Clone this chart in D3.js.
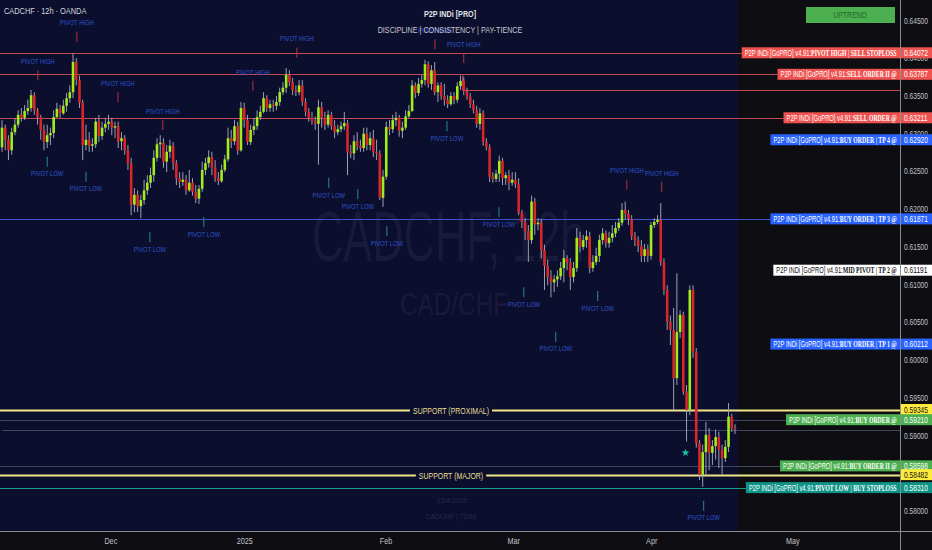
<!DOCTYPE html>
<html><head><meta charset="utf-8">
<script src="https://cdn.jsdelivr.net/npm/d3@7"></script>
<style>html,body{margin:0;padding:0;background:#0e0e12;overflow:hidden}</style>
</head><body><svg id="c" width="932" height="550"></svg>
<script>
// ---------- DATA ----------
// 12h candles, [open, high, low, close]
const candles = [
[0.6282,0.6318,0.6276,0.6308],[0.6308,0.6312,0.6278,0.6292],[0.6292,0.6298,0.6265,0.6278],[0.6278,0.6308,0.6272,0.6302],
[0.6302,0.6321,0.6298,0.6312],[0.6312,0.6331,0.6308,0.6325],[0.6325,0.6334,0.6316,0.6321],[0.6321,0.6338,0.6318,0.6330],
[0.6330,0.6345,0.6325,0.6334],[0.6334,0.6358,0.6329,0.6351],[0.6351,0.6355,0.6325,0.6331],[0.6331,0.6334,0.6312,0.6322],
[0.6322,0.6325,0.6292,0.6305],[0.6305,0.6312,0.6278,0.6289],[0.6289,0.6312,0.6281,0.6298],[0.6298,0.6308,0.6285,0.6301],
[0.6301,0.6331,0.6294,0.6322],[0.6322,0.6341,0.6321,0.6333],[0.6333,0.6338,0.6321,0.6327],[0.6327,0.6345,0.6325,0.6337],
[0.6337,0.6354,0.6329,0.6347],[0.6347,0.6364,0.6341,0.6355],[0.6355,0.6407,0.6347,0.6395],[0.6395,0.6400,0.6364,0.6371],
[0.6371,0.6377,0.6334,0.6341],[0.6341,0.6345,0.6265,0.6285],[0.6285,0.6312,0.6278,0.6292],[0.6292,0.6302,0.6276,0.6284],
[0.6284,0.6294,0.6276,0.6286],[0.6286,0.6321,0.6281,0.6316],[0.6316,0.6325,0.6289,0.6297],[0.6297,0.6316,0.6292,0.6308],
[0.6308,0.6321,0.6302,0.6313],[0.6313,0.6325,0.6305,0.6316],[0.6316,0.6321,0.6298,0.6308],[0.6308,0.6316,0.6294,0.6310],
[0.6310,0.6316,0.6281,0.6290],[0.6290,0.6302,0.6278,0.6294],[0.6294,0.6298,0.6272,0.6278],[0.6278,0.6285,0.6252,0.6261],
[0.6261,0.6268,0.6192,0.6206],[0.6206,0.6228,0.6196,0.6219],[0.6219,0.6225,0.6196,0.6204],[0.6204,0.6219,0.6188,0.6212],
[0.6212,0.6239,0.6206,0.6225],[0.6225,0.6245,0.6219,0.6235],[0.6235,0.6255,0.6228,0.6245],[0.6245,0.6278,0.6236,0.6268],
[0.6268,0.6294,0.6263,0.6286],[0.6286,0.6298,0.6268,0.6288],[0.6288,0.6294,0.6255,0.6263],[0.6263,0.6285,0.6249,0.6276],
[0.6276,0.6292,0.6268,0.6284],[0.6284,0.6289,0.6252,0.6261],[0.6261,0.6265,0.6232,0.6241],[0.6241,0.6249,0.6228,0.6236],
[0.6236,0.6249,0.6231,0.6239],[0.6239,0.6245,0.6219,0.6225],[0.6225,0.6252,0.6223,0.6235],[0.6235,0.6241,0.6218,0.6223],
[0.6223,0.6232,0.6208,0.6214],[0.6214,0.6232,0.6207,0.6227],[0.6227,0.6263,0.6223,0.6252],[0.6252,0.6268,0.6245,0.6261],
[0.6261,0.6278,0.6255,0.6269],[0.6269,0.6276,0.6245,0.6255],[0.6255,0.6265,0.6236,0.6241],[0.6241,0.6249,0.6232,0.6237],
[0.6237,0.6259,0.6235,0.6252],[0.6252,0.6272,0.6249,0.6266],[0.6266,0.6308,0.6263,0.6294],[0.6294,0.6305,0.6281,0.6290],
[0.6290,0.6318,0.6285,0.6310],[0.6310,0.6316,0.6272,0.6278],[0.6278,0.6342,0.6276,0.6334],[0.6334,0.6341,0.6308,0.6318],
[0.6318,0.6325,0.6285,0.6289],[0.6289,0.6312,0.6285,0.6305],[0.6305,0.6321,0.6298,0.6310],[0.6310,0.6331,0.6305,0.6322],
[0.6322,0.6337,0.6318,0.6329],[0.6329,0.6355,0.6327,0.6347],[0.6347,0.6351,0.6329,0.6334],[0.6334,0.6345,0.6329,0.6339],
[0.6339,0.6345,0.6329,0.6337],[0.6337,0.6350,0.6331,0.6342],[0.6342,0.6361,0.6337,0.6355],[0.6355,0.6368,0.6351,0.6361],
[0.6361,0.6387,0.6354,0.6378],[0.6378,0.6384,0.6363,0.6368],[0.6368,0.6374,0.6351,0.6358],[0.6358,0.6364,0.6350,0.6355],
[0.6355,0.6371,0.6351,0.6364],[0.6364,0.6371,0.6337,0.6342],[0.6342,0.6347,0.6323,0.6329],[0.6329,0.6334,0.6316,0.6321],
[0.6321,0.6329,0.6312,0.6317],[0.6317,0.6323,0.6305,0.6313],[0.6313,0.6345,0.6259,0.6335],[0.6335,0.6342,0.6308,0.6321],
[0.6321,0.6329,0.6305,0.6312],[0.6312,0.6331,0.6308,0.6325],[0.6325,0.6329,0.6305,0.6310],[0.6310,0.6318,0.6294,0.6302],
[0.6302,0.6312,0.6298,0.6306],[0.6306,0.6316,0.6302,0.6310],[0.6310,0.6329,0.6305,0.6314],[0.6314,0.6318,0.6245,0.6276],
[0.6276,0.6285,0.6268,0.6274],[0.6274,0.6298,0.6265,0.6290],[0.6290,0.6302,0.6278,0.6284],[0.6284,0.6292,0.6276,0.6281],
[0.6281,0.6308,0.6276,0.6300],[0.6300,0.6308,0.6278,0.6285],[0.6285,0.6302,0.6278,0.6294],[0.6294,0.6305,0.6269,0.6276],
[0.6276,0.6292,0.6265,0.6274],[0.6274,0.6278,0.6212,0.6215],[0.6215,0.6252,0.6203,0.6243],[0.6243,0.6316,0.6239,0.6309],
[0.6309,0.6318,0.6298,0.6306],[0.6306,0.6325,0.6301,0.6318],[0.6318,0.6329,0.6310,0.6321],[0.6321,0.6325,0.6296,0.6304],
[0.6304,0.6316,0.6294,0.6308],[0.6308,0.6331,0.6305,0.6323],[0.6323,0.6338,0.6321,0.6330],[0.6330,0.6371,0.6329,0.6364],
[0.6364,0.6368,0.6347,0.6354],[0.6354,0.6374,0.6350,0.6366],[0.6366,0.6378,0.6361,0.6371],[0.6371,0.6398,0.6364,0.6392],
[0.6392,0.6396,0.6361,0.6366],[0.6366,0.6391,0.6358,0.6384],[0.6384,0.6395,0.6351,0.6355],[0.6355,0.6368,0.6342,0.6364],
[0.6364,0.6368,0.6345,0.6350],[0.6350,0.6366,0.6337,0.6345],[0.6345,0.6351,0.6334,0.6339],[0.6339,0.6355,0.6337,0.6350],
[0.6350,0.6355,0.6339,0.6345],[0.6345,0.6368,0.6341,0.6363],[0.6363,0.6377,0.6358,0.6370],[0.6370,0.6375,0.6351,0.6357],
[0.6357,0.6361,0.6345,0.6349],[0.6349,0.6354,0.6334,0.6339],[0.6339,0.6345,0.6327,0.6331],[0.6331,0.6337,0.6308,0.6313],
[0.6313,0.6334,0.6305,0.6327],[0.6327,0.6331,0.6284,0.6289],[0.6289,0.6294,0.6278,0.6282],[0.6282,0.6286,0.6236,0.6243],
[0.6243,0.6249,0.6235,0.6240],[0.6240,0.6252,0.6236,0.6247],[0.6247,0.6271,0.6236,0.6264],[0.6264,0.6268,0.6232,0.6241],
[0.6241,0.6249,0.6232,0.6245],[0.6245,0.6252,0.6225,0.6235],[0.6235,0.6249,0.6231,0.6239],[0.6239,0.6249,0.6228,0.6233],
[0.6233,0.6241,0.6192,0.6195],[0.6195,0.6199,0.6175,0.6183],[0.6183,0.6188,0.6159,0.6171],[0.6171,0.6179,0.6130,0.6159],
[0.6159,0.6218,0.6154,0.6210],[0.6210,0.6215,0.6166,0.6180],[0.6180,0.6188,0.6172,0.6182],[0.6182,0.6187,0.6135,0.6146],
[0.6146,0.6153,0.6093,0.6125],[0.6125,0.6133,0.6099,0.6110],[0.6110,0.6119,0.6083,0.6103],[0.6103,0.6113,0.6090,0.6107],
[0.6107,0.6119,0.6097,0.6111],[0.6111,0.6130,0.6106,0.6122],[0.6122,0.6146,0.6103,0.6135],[0.6135,0.6139,0.6119,0.6129],
[0.6129,0.6135,0.6093,0.6110],[0.6110,0.6130,0.6103,0.6122],[0.6122,0.6175,0.6117,0.6162],[0.6162,0.6170,0.6143,0.6150],
[0.6150,0.6166,0.6146,0.6159],[0.6159,0.6172,0.6149,0.6164],[0.6164,0.6170,0.6115,0.6122],[0.6122,0.6139,0.6117,0.6130],
[0.6130,0.6149,0.6126,0.6138],[0.6138,0.6166,0.6130,0.6159],[0.6159,0.6175,0.6153,0.6168],[0.6168,0.6172,0.6149,0.6155],
[0.6155,0.6170,0.6149,0.6162],[0.6162,0.6179,0.6156,0.6168],[0.6168,0.6183,0.6163,0.6175],[0.6175,0.6188,0.6171,0.6182],
[0.6182,0.6208,0.6178,0.6199],[0.6199,0.6210,0.6186,0.6194],[0.6194,0.6199,0.6179,0.6187],[0.6187,0.6192,0.6159,0.6164],
[0.6164,0.6170,0.6151,0.6159],[0.6159,0.6164,0.6143,0.6151],[0.6151,0.6159,0.6130,0.6138],[0.6138,0.6154,0.6130,0.6147],
[0.6147,0.6153,0.6130,0.6138],[0.6138,0.6183,0.6133,0.6179],[0.6179,0.6188,0.6175,0.6183],[0.6183,0.6192,0.6180,0.6186],
[0.6186,0.6208,0.6125,0.6130],[0.6130,0.6135,0.6086,0.6093],[0.6093,0.6099,0.6040,0.6051],[0.6051,0.6059,0.6020,0.6040],
[0.6040,0.6069,0.5934,0.5976],[0.5976,0.6115,0.5967,0.6037],[0.6037,0.6066,0.6029,0.6060],[0.6060,0.6064,0.5954,0.5958],
[0.5958,0.5967,0.5892,0.5934],[0.5934,0.6099,0.5927,0.6093],[0.6093,0.6099,0.6003,0.6011],[0.6011,0.6016,0.5884,0.5890],
[0.5890,0.5894,0.5841,0.5848],[0.5848,0.5888,0.5832,0.5878],[0.5878,0.5918,0.5847,0.5901],[0.5901,0.5910,0.5854,0.5877],
[0.5877,0.5894,0.5861,0.5886],[0.5886,0.5908,0.5868,0.5898],[0.5898,0.5905,0.5857,0.5881],[0.5881,0.5888,0.5848,0.5870],
[0.5870,0.5894,0.5865,0.5885],[0.5885,0.5943,0.5878,0.5925],[0.5925,0.5929,0.5905,0.5910],[0.5910,0.5915,0.5902,0.5908]
];

const monthLabels = ["Dec", "2025", "Feb", "Mar", "Apr", "May"];
const monthBars   = [33.7, 75.2, 118.9, 158.5, 201.2, 244.9];

const priceTicks = [0.580,0.585,0.590,0.595,0.600,0.605,0.610,0.615,0.620,0.625,0.630,0.635,0.640,0.645];

// indicator levels (right-hand labels)
const levelPrices = [0.64072, 0.63787, 0.63211, 0.62920, 0.61871, 0.61191, 0.60212, 0.59345, 0.59210, 0.58598, 0.58482, 0.58310];
const levelNames  = ["PIVOT HIGH | SELL STOPLOSS", "SELL ORDER II @", "SELL ORDER @", "BUY ORDER | TP 4 @",
                     "BUY ORDER | TP 3 @", "MID PIVOT | TP 2 @", "BUY ORDER | TP 1 @", "",
                     "BUY ORDER @", "BUY ORDER II @", "", "PIVOT LOW | BUY STOPLOSS"];
const levelKinds  = ["red","red","red","blue","blue","white","blue","yellow","green","green","yellow","teal"];
const levelLine   = ["red","red","red",null,"blue",null,null,"yellow","gray","gray","yellow","teal"];
const supportTexts = {"0.59345": "SUPPORT (PROXIMAL)", "0.58482": "SUPPORT (MAJOR)"};
const labelPrefix = "P2P INDi [GoPRO] v4.91:";

// extra unlabeled lines: [price, fromBar, kind]
const extraLines = [[0.6358, 142.7, "red"], [0.5908, 0, "gray"]];

// pivot annotations
const pivotHighBars   = [11.1, 23.2, 35.9, 49.8, 77.7, 91.3, 134.1, 143.0, 193.5, 204.3];
const pivotHighPrices = [0.6396, 0.6447, 0.6367, 0.6330, 0.6382, 0.6426, 0.6437, 0.6419, 0.6251, 0.6248];
const pivotLowBars    = [14.0, 26.0, 45.8, 62.5, 101.2, 110.2, 119.2, 137.8, 153.9, 161.6, 171.5, 184.5, 217.3];
const pivotLowPrices  = [0.6247, 0.6227, 0.6147, 0.6167, 0.6219, 0.6204, 0.6155, 0.6294, 0.6180, 0.6074, 0.6015, 0.6069, 0.5791];

const starBar = 211.8, starPrice = 0.5878;

// ---------- CHART ----------
const W = 932, H = 550, plotRight = 738, axisX = 900, axisY = 531;
const FONT = "Liberation Sans, Arial, sans-serif";
const svg = d3.select("#c");
const x = d3.scaleLinear().domain([0, candles.length - 1]).range([2, 735]);
const y = d3.scaleLinear().domain([0.580, 0.645]).range([511, 20.5]);

// horizontally condensed text (transform keeps the real box right)
function ctext(parent, tx, ty, f, str, size, fill, anchor) {
  return parent.append("text").attr("x", 0).attr("y", 0)
    .attr("transform", `translate(${tx},${ty}) scale(${f},1)`)
    .attr("font-size", size).attr("fill", fill).attr("font-family", FONT)
    .attr("text-anchor", anchor || "start").text(str);
}

svg.append("rect").attr("width", W).attr("height", H).attr("fill", "#0e0e12");
svg.append("rect").attr("width", plotRight).attr("height", axisY).attr("fill", "#0b0e2c");

// watermark
ctext(svg, 312, 261, 0.62, "CADCHF, 12h", 70, "#171a3a");
ctext(svg, 400, 315, 0.76, "CAD/CHF", 32, "#171a3a");
ctext(svg, 452, 503, 0.85, "15/4/2025", 8, "#262a4c", "middle");
ctext(svg, 451, 519, 0.85, "CADCHF | 720M", 8, "#262a4c", "middle");

const lineColors = {red: "#c24a52", blue: "#3a55c8", teal: "#1c9c8c", gray: "#41465f", yellow: "#efe38c"};
const LF = 0.685;

// measure label widths
const labelW = [];
const tmp = svg.append("g");
levelPrices.forEach((p, i) => {
  if (!levelNames[i]) { labelW.push(0); return; }
  const t = tmp.append("text").attr("font-size", 8.5).attr("font-family", FONT);
  t.append("tspan").text(labelPrefix);
  t.append("tspan").attr("font-family", "Liberation Serif, serif").attr("font-weight", "bold").text(levelNames[i]);
  labelW.push(t.node().getComputedTextLength() * LF + 6);
});
tmp.remove();

// level lines
const lines = svg.append("g");
levelPrices.forEach((p, i) => {
  const k = levelLine[i];
  if (!k) return;
  const yy = Math.round(y(p)) + 0.5;
  const x2 = (k === "yellow") ? axisX : axisX - labelW[i];
  const g = lines.append("g");
  if (k === "yellow") {
    g.append("line").attr("x1", 0).attr("x2", x2).attr("y1", yy).attr("y2", yy)
      .attr("stroke", lineColors.yellow).attr("stroke-width", 2);
    const bgRect = g.append("rect");
    const txt = ctext(g, 451, yy + 3, 0.82, supportTexts[p.toFixed(5)], 8.5, "#e9df94", "middle");
    const w = txt.node().getComputedTextLength() * 0.82;
    bgRect.attr("x", 451 - w / 2 - 3).attr("y", yy - 2).attr("width", w + 6).attr("height", 4).attr("fill", "#0b0e2c");
  } else {
    g.append("line").attr("x1", 0).attr("x2", x2).attr("y1", yy).attr("y2", yy)
      .attr("stroke", lineColors[k]).attr("stroke-width", 1);
  }
});
extraLines.forEach(([p, b, k]) => {
  const yy = Math.round(y(p)) + 0.5;
  lines.append("line").attr("x1", x(b)).attr("x2", axisX).attr("y1", yy).attr("y2", yy)
    .attr("stroke", lineColors[k]).attr("stroke-width", 1);
  if (k === "red") {
    lines.append("line").attr("x1", x(b)).attr("x2", x(b)).attr("y1", Math.round(y(levelPrices[1])) + 0.5).attr("y2", yy)
      .attr("stroke", lineColors[k]).attr("stroke-width", 1);
  }
});

// candles
const cg = svg.append("g");
candles.forEach((d, i) => {
  const [o, h, l, c] = d;
  const cx = x(i);
  cg.append("line").attr("x1", cx).attr("x2", cx).attr("y1", y(h)).attr("y2", y(l))
    .attr("stroke", "#9ea0b2").attr("stroke-width", 1);
  const top = Math.min(y(o), y(c)), ht = Math.max(1, Math.abs(y(o) - y(c)));
  cg.append("rect").attr("x", cx - 1.3).attr("width", 2.6).attr("y", top).attr("height", ht)
    .attr("fill", c >= o ? "#a0ec1c" : "#d8262a");
});

// pivots
const pv = svg.append("g");
pivotHighBars.forEach((b, i) => {
  const px = x(b), py = y(pivotHighPrices[i]);
  pv.append("line").attr("x1", px).attr("x2", px).attr("y1", py + 9).attr("y2", py + 19).attr("stroke", "#b8323e");
  ctext(pv, px, py + 2.7, 0.78, "PIVOT HIGH", 7.5, "#2f56d0", "middle");
});
pivotLowBars.forEach((b, i) => {
  const px = x(b), py = y(pivotLowPrices[i]);
  pv.append("line").attr("x1", px).attr("x2", px).attr("y1", py - 17).attr("y2", py - 7).attr("stroke", "#2a8c8a");
  ctext(pv, px, py + 2.7, 0.78, "PIVOT LOW", 7.5, "#2f56d0", "middle");
});
svg.append("text").attr("x", x(starBar)).attr("y", y(starPrice) + 3.5).attr("text-anchor", "middle")
  .attr("font-size", 10).attr("fill", "#19c7a4").text("★");

// right dark region / bottom axis area
svg.append("rect").attr("x", axisX).attr("y", 0).attr("width", W - axisX).attr("height", H).attr("fill", "#0e0e12");
svg.append("rect").attr("x", 0).attr("y", axisY).attr("width", W).attr("height", H - axisY).attr("fill", "#0e0e12");

// price axis
const ax = svg.append("g");
priceTicks.forEach(p => ctext(ax, 904, y(p) + 3, 0.78, p.toFixed(5), 8.5, "#c2c2c8"));
// time axis
monthLabels.forEach((m, i) => ctext(ax, x(monthBars[i]), 544, 0.85, m, 8.5, "#c2c2c8", "middle"));
svg.append("line").attr("x1", axisX + 0.5).attr("x2", axisX + 0.5).attr("y1", 0).attr("y2", H).attr("stroke", "#8c8c94");
svg.append("line").attr("x1", 0).attr("x2", W).attr("y1", axisY + 0.5).attr("y2", axisY + 0.5).attr("stroke", "#8c8c94");

// label boxes (drawn last, on top)
const boxFill = {red: "#ef5350", blue: "#2962ff", white: "#ffffff", green: "#4caf50", teal: "#0f9488", yellow: "#ffeb3b"};
const boxText = {red: "#ffffff", blue: "#ffffff", white: "#111111", green: "#ffffff", teal: "#ffffff", yellow: "#111111"};
const labG = svg.append("g");
levelPrices.forEach((p, i) => {
  const k = levelKinds[i], yy = y(p);
  if (levelNames[i]) {
    const bx = axisX - labelW[i];
    labG.append("rect").attr("x", bx).attr("y", yy - 5.5).attr("width", labelW[i]).attr("height", 11).attr("fill", boxFill[k]);
    const t = ctext(labG, bx + 3, yy + 3, LF, null, 8.5, boxText[k]);
    t.text(null);
    t.append("tspan").text(labelPrefix);
    t.append("tspan").attr("font-family", "Liberation Serif, serif").attr("font-weight", "bold").text(levelNames[i]);
  }
  labG.append("rect").attr("x", axisX + 1).attr("y", yy - 5.5).attr("width", W - axisX - 1).attr("height", 11).attr("fill", boxFill[k]);
  ctext(labG, 904, yy + 3, 0.78, p.toFixed(5), 8.5, boxText[k]);
});

// header texts
ctext(svg, 4, 14, 0.82, "CADCHF · 12h · OANDA", 9, "#d6d6dc");
ctext(svg, 450, 17, 0.8, "P2P INDi [PRO]", 9, "#e4e4ea", "middle").attr("font-weight", "bold");
ctext(svg, 450, 33, 0.8, "DISCIPLINE  |  CONSISTENCY  |  PAY-TIENCE", 9, "#c8c8d2", "middle");

// trend box
svg.append("rect").attr("x", 806).attr("y", 7).attr("width", 89).attr("height", 16).attr("fill", "#4caf50");
ctext(svg, 850, 18, 0.82, "UPTREND", 8.5, "#236b2a", "middle");
</script></body></html>
